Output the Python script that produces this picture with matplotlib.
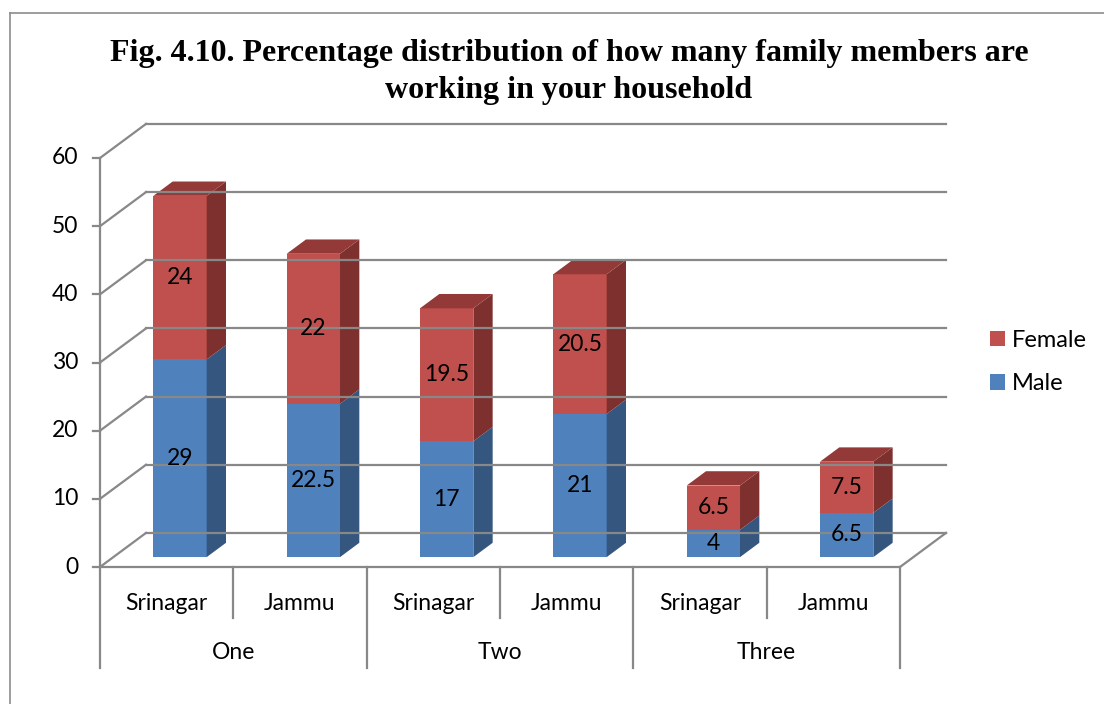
import matplotlib
matplotlib.use("Agg")
import matplotlib.pyplot as plt
from matplotlib.patches import Polygon, Patch
from matplotlib.lines import Line2D

# data
groups = ["One", "Two", "Three"]
cities = ["Srinagar", "Jammu", "Srinagar", "Jammu", "Srinagar", "Jammu"]
male = [29, 22.5, 17, 21, 4, 6.5]
female = [24, 22, 19.5, 20.5, 6.5, 7.5]
yticks = [0, 10, 20, 30, 40, 50, 60]

male_cols = ("#4F81BD", "#34567F", "#3B6190")
female_cols = ("#C0504D", "#7E302E", "#933937")
grid_col = "#888888"
FS = 16.5

# fake 3D: depth 1 shifts by (DX categories, DY value units)
DX, DY = 0.345, 5.0
D0, D1 = 0.29, 0.71
BW = 0.4


def proj(x, v, d):
    return x + DX * d, v + DY * d


plt.rcParams["font.family"] = ["Lato", "DejaVu Sans"]
fig = plt.figure(figsize=(11.04, 7.04), dpi=100)
ax = fig.add_axes([100 / 1104, 1 - 567 / 704, 800 / 1104, 409 / 704])
ax.set_xlim(0, 6)
ax.set_ylim(0, 60)
ax.axis("off")

n = len(cities)

# back wall gridlines and left wall diagonals
for v in yticks:
    ax.add_line(Line2D(*zip(proj(0, v, 1), proj(n, v, 1)), color=grid_col, lw=1.6, clip_on=False))
    ax.add_line(Line2D(*zip(proj(0, v, 0), proj(0, v, 1)), color=grid_col, lw=1.6, clip_on=False))
    ax.add_line(Line2D([-0.055, 0], [v, v], color=grid_col, lw=1.6, clip_on=False))
    ax.text(-0.165, v, str(v), ha="right", va="center", fontsize=FS, clip_on=False)

# floor edges
ax.add_line(Line2D([0, n], [0, 0], color=grid_col, lw=1.6, clip_on=False))
ax.add_line(Line2D(*zip(proj(n, 0, 0), proj(n, 0, 1)), color=grid_col, lw=1.6, clip_on=False))
# front value axis
ax.add_line(Line2D([0, 0], [-14.8, 60], color=grid_col, lw=1.6, clip_on=False))

# category axis separators and labels
for i in range(1, n + 1):
    low = -14.8 if i % 2 == 0 else -7.5
    ax.add_line(Line2D([i, i], [0, low], color=grid_col, lw=1.6, clip_on=False))
for i, c in enumerate(cities):
    ax.text(i + 0.5, -5.3, c, ha="center", va="center", fontsize=FS, clip_on=False)
for g, name in enumerate(groups):
    ax.text(2 * g + 1, -12.6, name, ha="center", va="center", fontsize=FS, clip_on=False)


def draw_segment(i, v0, v1, cols, top):
    xl = i + 0.5 - BW / 2
    xr = i + 0.5 + BW / 2
    front = [proj(xl, v0, D0), proj(xr, v0, D0), proj(xr, v1, D0), proj(xl, v1, D0)]
    side = [proj(xr, v0, D0), proj(xr, v0, D1), proj(xr, v1, D1), proj(xr, v1, D0)]
    ax.add_patch(Polygon(front, closed=True, fc=cols[0], ec="none", clip_on=False))
    ax.add_patch(Polygon(side, closed=True, fc=cols[1], ec="none", clip_on=False))
    if top:
        tp = [proj(xl, v1, D0), proj(xr, v1, D0), proj(xr, v1, D1), proj(xl, v1, D1)]
        ax.add_patch(Polygon(tp, closed=True, fc=cols[2], ec="none", clip_on=False))
    cx, cy = proj(i + 0.5, (v0 + v1) / 2, D0)
    val = v1 - v0
    ax.text(cx, cy, f"{val:g}", ha="center", va="center", fontsize=FS, clip_on=False)


for i in range(n):
    draw_segment(i, 0, male[i], male_cols, False)
    draw_segment(i, male[i], male[i] + female[i], female_cols, True)

# legend
handles = [Patch(fc=female_cols[0], label="Female"), Patch(fc=male_cols[0], label="Male")]
fig.legend(handles=handles, loc="center left", bbox_to_anchor=(990 / 1104, 1 - 362 / 704),
           frameon=False, fontsize=17, handlelength=0.62, handleheight=0.62,
           handletextpad=0.3, labelspacing=0.95, borderpad=0, borderaxespad=0)

# title
fig.text(569 / 1104, 1 - 72 / 704,
         "Fig. 4.10. Percentage distribution of how many family members are\nworking in your household",
         ha="center", va="center", fontsize=23, fontweight="bold",
         family="Liberation Serif", linespacing=1.38)

# chart border
fig.add_artist(Line2D([10 / 1104, 10 / 1104], [0, 1 - 13 / 704], color="#8c8c8c", lw=1.2))
fig.add_artist(Line2D([10 / 1104, 1], [1 - 13 / 704, 1 - 13 / 704], color="#8c8c8c", lw=1.2))

fig.savefig("out.png", dpi=100)
